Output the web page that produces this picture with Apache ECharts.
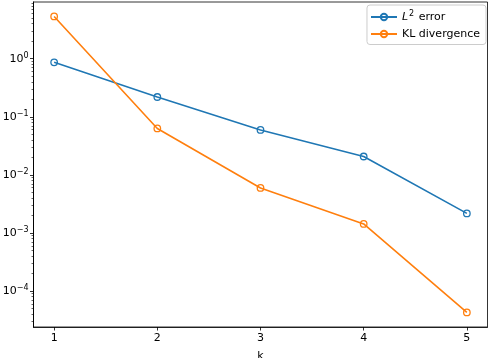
<!DOCTYPE html>
<html>
<head>
    <meta charset="utf-8">
    <script src="https://cdn.jsdelivr.net/npm/echarts@6/dist/echarts.min.js"></script>
    <style>
        *{ margin:0; padding:0; }
        body{ background:#fff; }
    </style>
</head>
<body>
    <div id="main" style="width:490px;height:358px;"></div>
    <script type="text/javascript">

    var kValues = [1, 2, 3, 4, 5];
    var l2Error = [0.867, 0.219, 0.0593, 0.0207, 0.00217];
    var klDivergence = [5.33, 0.0629, 0.00595, 0.00143, 0.0000428];
    var yMajorTicks = [1e-4, 1e-3, 1e-2, 1e-1, 1];
    var seriesNames = ['L2 error', 'KL divergence'];

    var yMinorTicks = [];
    for (var e = -5; e <= 0; e++) {
        for (var m = 2; m <= 9; m++) {
            yMinorTicks.push(m * Math.pow(10, e));
        }
    }

    var font = 'DejaVu Sans';
    var yMin = 2.4e-5, yMax = 9.46;

    function pairs(ys) {
        return kValues.map(function (k, i) { return [k, ys[i]]; });
    }

    function lineSeries(name, ys, color) {
        return {
            name: name,
            type: 'line',
            data: pairs(ys),
            symbol: 'circle',
            symbolSize: 6.5,
            lineStyle: { color: color, width: 1.6 },
            itemStyle: { color: 'rgba(0,0,0,0)', borderColor: color, borderWidth: 1.3 },
            emphasis: { disabled: true }
        };
    }

    var myChart = echarts.init(document.getElementById('main'));

    myChart.setOption({
        animation: false,
        color: ['#1f77b4', '#ff7f0e'],
        grid: {
            left: 33.5, right: 2.5, top: 2, bottom: 31,
            show: true, borderColor: '#000', borderWidth: 0.8,
            containLabel: false,
            outerBoundsMode: 'none'
        },
        legend: {
            right: 4, top: 5,
            orient: 'vertical',
            itemGap: 6,
            itemWidth: 26, itemHeight: 8,
            padding: [5, 6, 5, 3],
            borderColor: '#ccc', borderWidth: 1, borderRadius: 3,
            backgroundColor: 'rgba(255,255,255,0.8)',
            formatter: function (name) {
                return name === 'L2 error' ? '{it|L}{sup|2}{n| error}' : '{n|' + name + '}';
            },
            textStyle: {
                fontFamily: font, fontSize: 11, color: '#000',
                rich: {
                    it: { fontFamily: font, fontStyle: 'italic', fontSize: 11, color: '#000' },
                    sup: { fontFamily: font, fontSize: 8, color: '#000', verticalAlign: 'top', padding: [0, 1, 6, 1] },
                    n: { fontFamily: font, fontSize: 11, color: '#000' }
                }
            },
            data: seriesNames
        },
        xAxis: {
            type: 'value',
            min: 0.8, max: 5.2,
            name: 'k',
            nameLocation: 'middle',
            nameGap: 24,
            nameTextStyle: { fontFamily: font, fontSize: 11, color: '#000' },
            axisLine: { show: true, lineStyle: { color: '#000', width: 0.8 } },
            splitLine: { show: false },
            axisTick: { show: true, length: 3.5, inside: false, customValues: kValues, lineStyle: { color: '#000', width: 0.8 } },
            axisLabel: { customValues: kValues, fontFamily: font, fontSize: 11, color: '#000', margin: 6 }
        },
        yAxis: [{
            type: 'log',
            logBase: 10,
            min: yMin, max: yMax,
            axisLine: { show: true, lineStyle: { color: '#000', width: 0.8 } },
            splitLine: { show: false },
            axisTick: { show: true, length: 3.5, customValues: yMajorTicks, lineStyle: { color: '#000', width: 0.8 } },
            axisLabel: {
                customValues: yMajorTicks,
                margin: 5,
                formatter: function (v) {
                    var p = Math.round(Math.log10(v));
                    return '{b|10}{s|' + (p < 0 ? '\u2212' + (-p) : p) + '}';
                },
                rich: {
                    b: { fontFamily: font, fontSize: 11, color: '#000' },
                    s: { fontFamily: font, fontSize: 8, color: '#000', verticalAlign: 'top', padding: [0, 0, 6, 0] }
                }
            }
        }, {
            type: 'log',
            logBase: 10,
            min: yMin, max: yMax,
            position: 'left',
            axisLine: { show: true, lineStyle: { color: '#000', width: 0.8 } },
            splitLine: { show: false },
            axisTick: { show: true, length: 2, customValues: yMinorTicks.filter(function (v) { return v > yMin && v < yMax; }), lineStyle: { color: '#000', width: 0.6 } },
            axisLabel: { show: false }
        }],
        series: [
            lineSeries(seriesNames[0], l2Error, '#1f77b4'),
            lineSeries(seriesNames[1], klDivergence, '#ff7f0e')
        ]
    });
</script>
</body>
</html>
